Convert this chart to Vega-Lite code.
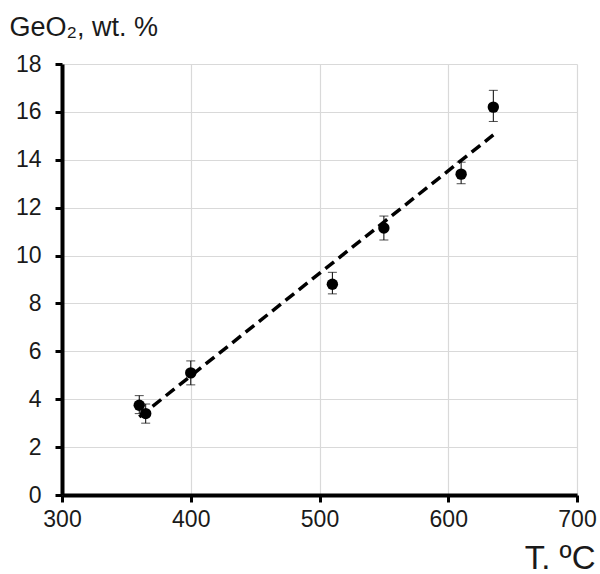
{
  "$schema": "https://vega.github.io/schema/vega-lite/v6.json",
  "autosize": "none",
  "width": 515,
  "height": 431,
  "padding": {"left": 62, "top": 64, "right": 23, "bottom": 79},
  "background": "white",
  "config": {
    "view": {"stroke": null},
    "font": "Liberation Sans",
    "axis": {"labelFont": "Liberation Sans", "titleFont": "Liberation Sans", "labelColor": "#1a1a1a", "titleColor": "#1a1a1a", "titleFontWeight": "normal"}
  },
  "datasets": {
    "pts": [
      {"T": 360, "GeO2": 3.75, "lo": 3.4, "hi": 4.15},
      {"T": 365, "GeO2": 3.4, "lo": 3.0, "hi": 3.8},
      {"T": 400, "GeO2": 5.1, "lo": 4.6, "hi": 5.6},
      {"T": 510, "GeO2": 8.8, "lo": 8.4, "hi": 9.3},
      {"T": 550, "GeO2": 11.15, "lo": 10.65, "hi": 11.65},
      {"T": 610, "GeO2": 13.4, "lo": 13.0, "hi": 13.9},
      {"T": 635, "GeO2": 16.2, "lo": 15.6, "hi": 16.9}
    ],
    "fit": [
      {"T": 360, "GeO2": 3.26},
      {"T": 635, "GeO2": 15.04}
    ]
  },
  "layer": [
    {
      "data": {"name": "fit"},
      "mark": {"type": "line", "color": "black", "strokeWidth": 3.5, "strokeDash": [11, 6]},
      "encoding": {
        "x": {"field": "T", "type": "quantitative", "scale": {"domain": [300, 700], "nice": false},
          "axis": {"values": [300, 400, 500, 600, 700], "title": "T. ºC", "titleFontSize": 33, "titleAnchor": "end", "titleAlign": "right", "titleX": 533, "titleY": 73, "titleBaseline": "alphabetic",
            "labelFontSize": 23, "labelPadding": 6, "tickSize": 7, "tickWidth": 3, "tickColor": "black", "domainColor": "black", "domainWidth": 4, "gridColor": "#d9d9d9", "gridWidth": 1.2, "labelFlush": false}},
        "y": {"field": "GeO2", "type": "quantitative", "scale": {"domain": [0, 18], "nice": false},
          "axis": {"values": [0, 2, 4, 6, 8, 10, 12, 14, 16, 18], "title": "GeO₂, wt. %", "titleFontSize": 27, "titleAngle": 0, "titleAlign": "left", "titleBaseline": "alphabetic", "titleX": -53, "titleY": -29,
            "labelFontSize": 23, "labelPadding": 14, "tickSize": 7, "tickWidth": 3, "tickColor": "black", "domainColor": "black", "domainWidth": 4, "gridColor": "#d9d9d9", "gridWidth": 1.2, "labelFlush": false}}
      }
    },
    {
      "data": {"name": "pts"},
      "mark": {"type": "rule", "color": "black", "strokeWidth": 1},
      "encoding": {
        "x": {"field": "T", "type": "quantitative"},
        "y": {"field": "lo", "type": "quantitative"},
        "y2": {"field": "hi"}
      }
    },
    {
      "data": {"name": "pts"},
      "mark": {"type": "tick", "orient": "horizontal", "color": "black", "size": 9, "thickness": 1},
      "encoding": {
        "x": {"field": "T", "type": "quantitative"},
        "y": {"field": "lo", "type": "quantitative"}
      }
    },
    {
      "data": {"name": "pts"},
      "mark": {"type": "tick", "orient": "horizontal", "color": "black", "size": 9, "thickness": 1},
      "encoding": {
        "x": {"field": "T", "type": "quantitative"},
        "y": {"field": "hi", "type": "quantitative"}
      }
    },
    {
      "data": {"name": "pts"},
      "mark": {"type": "circle", "color": "black", "opacity": 1, "size": 130},
      "encoding": {
        "x": {"field": "T", "type": "quantitative"},
        "y": {"field": "GeO2", "type": "quantitative"}
      }
    }
  ]
}
